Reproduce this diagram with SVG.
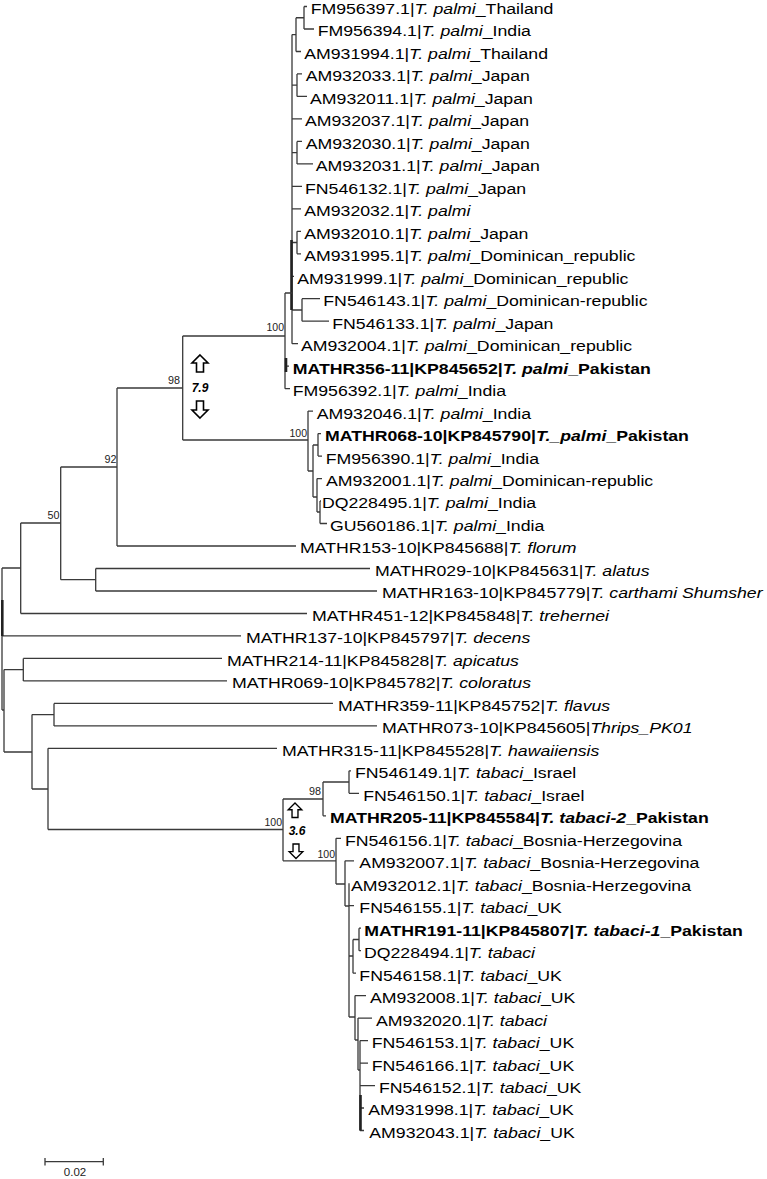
<svg xmlns="http://www.w3.org/2000/svg" width="767" height="1179" viewBox="0 0 767 1179">
<style>
.e{fill:none;stroke:#3a3a3a;stroke-width:1.3}
.k{fill:none;stroke:#222;stroke-width:2.6}
.t{font-family:"Liberation Sans",Arial,sans-serif;font-size:14px;fill:#000}
.bd{font-weight:bold}
.i{font-style:italic}
.b{font-family:"Liberation Sans",Arial,sans-serif;font-size:11.5px;fill:#222;text-anchor:end}
.a{fill:#fff;stroke:#000;stroke-width:1.6;stroke-linejoin:miter}
.d{font-family:"Liberation Sans",Arial,sans-serif;font-size:12px;font-weight:bold;font-style:italic;text-anchor:middle}
</style>
<defs>
<path id="up" d="M0,0 L8,8 L3.5,8 L3.5,17 L-3.5,17 L-3.5,8 L-8,8 Z"/>
<path id="dn" d="M0,17 L8,9 L3.5,9 L3.5,0 L-3.5,0 L-3.5,9 L-8,9 Z"/>
</defs>
<rect width="767" height="1179" fill="#fff"/>
<g id="connectors">
<path class="e" d="M304,6.5 V29 M304,6.5 H307 M304,29 H314"/>
<path class="e" d="M296,17.75 V51.5 M296,17.75 H304 M296,51.5 H301"/>
<path class="e" d="M297,73.9 V96.4 M297,73.9 H302 M297,96.4 H307"/>
<path class="e" d="M297,141.4 V163.9 M297,141.4 H302 M297,163.9 H313"/>
<path class="e" d="M297,231.3 V253.8 M297,231.3 H301 M297,253.8 H301"/>
<path class="e" d="M302,298.7 V321.2 M302,298.7 H320 M302,321.2 H329"/>
<path class="e" d="M292,34.6 V343.7 M292,34.6 H296 M292,85.2 H297 M292,118.9 H302 M292,152.6 H297 M292,186.3 H302 M292,208.8 H301 M292,242.5 H297 M292,276.3 H294 M292,310 H302 M292,343.7 H298"/>
<path class="k" d="M291.5,240 V310"/>
<path class="e" d="M285,293 V388.7 M285,293 H292 M285,366.2 H289 M285,388.7 H290"/>
<path class="k" d="M286,358 V372"/>
<path class="e" d="M182.7,336 V440 M182.7,336 H285 M182.7,440 H308"/>
<path class="e" d="M308,411.1 V471 M308,411.1 H313 M308,471 H313"/>
<path class="e" d="M313,445 V497 M313,445 H318 M313,497 H317"/>
<path class="e" d="M318,433.6 V456.1 M318,433.6 H321 M318,456.1 H322"/>
<path class="e" d="M317,478.6 V512 M317,478.6 H322 M317,512 H320"/>
<path class="e" d="M320,501 V523.5 M320,501 H321 M320,523.5 H327"/>
<path class="e" d="M117,388 V546 M117,388 H182.7 M117,546 H296"/>
<path class="e" d="M60.7,467 V579.7 M60.7,467 H117 M60.7,579.7 H95.7"/>
<path class="e" d="M95.7,568.5 V591 M95.7,568.5 H370 M95.7,591 H377"/>
<path class="e" d="M20.7,523 V613.5 M20.7,523 H60.7 M20.7,613.5 H307"/>
<path class="e" d="M2,568 V710 M2,568 H20.7 M2,635.9 H241 M2,710 H4"/>
<path class="k" d="M2.3,600 V636"/>
<path class="e" d="M4,669.6 V752 M4,669.6 H23.3 M4,752 H32"/>
<path class="e" d="M23.3,658.4 V680.9 M23.3,658.4 H222 M23.3,680.9 H227"/>
<path class="e" d="M32,714.6 V789 M32,714.6 H54 M32,789 H48"/>
<path class="e" d="M54,703.4 V725.9 M54,703.4 H333 M54,725.9 H377"/>
<path class="e" d="M48,748.3 V829.5 M48,748.3 H277 M48,829.5 H283"/>
<path class="e" d="M283,799 V860.8 M283,799 H323 M283,860.8 H336"/>
<path class="e" d="M323,782 V815.8 M323,782 H349 M323,815.8 H326"/>
<path class="e" d="M349,770.8 V793.3 M349,770.8 H351 M349,793.3 H359"/>
<path class="e" d="M336,838.3 V884 M336,838.3 H341 M336,884 H345"/>
<path class="e" d="M345,860.8 V906 M345,860.8 H354 M345,906 H349"/>
<path class="e" d="M349,883.2 V1017 M349,905.7 H354 M349,956 H353 M349,1017 H355"/>
<path class="e" d="M353,939.5 V973.2 M353,939.5 H359 M353,973.2 H356"/>
<path class="e" d="M359,928.2 V950.7 M359,928.2 H361 M359,950.7 H361"/>
<path class="e" d="M355,995.6 V1040 M355,995.6 H366 M355,1040 H358"/>
<path class="e" d="M358,1018.1 V1070 M358,1018.1 H372 M358,1070 H360"/>
<path class="e" d="M360,1040.6 V1130.5 M360,1040.6 H368 M360,1063.1 H368 M360,1085.6 H375 M360,1108 H364 M360,1130.5 H364"/>
<path class="k" d="M360.5,1095 V1130.5"/>
</g>
<g id="bootstrap">
<text class="b" x="284" y="331" textLength="17.5" lengthAdjust="spacingAndGlyphs">100</text>
<text class="b" x="180" y="384" textLength="12" lengthAdjust="spacingAndGlyphs">98</text>
<text class="b" x="307" y="437" textLength="17.5" lengthAdjust="spacingAndGlyphs">100</text>
<text class="b" x="116.5" y="463" textLength="12" lengthAdjust="spacingAndGlyphs">92</text>
<text class="b" x="59.5" y="519" textLength="12" lengthAdjust="spacingAndGlyphs">50</text>
<text class="b" x="282" y="826" textLength="17.5" lengthAdjust="spacingAndGlyphs">100</text>
<text class="b" x="321" y="795" textLength="12" lengthAdjust="spacingAndGlyphs">98</text>
<text class="b" x="335" y="858" textLength="17.5" lengthAdjust="spacingAndGlyphs">100</text>
</g>
<g id="divergence-palmi">
<use href="#up" class="a" x="200" y="355"/>
<text class="d" x="200" y="392">7.9</text>
<use href="#dn" class="a" x="200" y="401"/>
</g>
<g id="divergence-tabaci">
<use href="#up" class="a" x="295" y="803" transform="translate(295 803) scale(0.85) translate(-295 -803)"/>
<text class="d" x="297" y="835">3.6</text>
<use href="#dn" class="a" x="296" y="844" transform="translate(296 844) scale(0.85) translate(-296 -844)"/>
</g>
<g id="labels" transform="scale(1.264 1)">
<g id="n1"><text class="t" x="245.8" y="14">FM956397.1|<tspan class="i">T. palmi</tspan>_Thailand</text></g>
<g id="n2"><text class="t" x="251.3" y="36.5">FM956394.1|<tspan class="i">T. palmi</tspan>_India</text></g>
<g id="n3"><text class="t" x="240.7" y="59">AM931994.1|<tspan class="i">T. palmi</tspan>_Thailand</text></g>
<g id="n4"><text class="t" x="241.9" y="81.4">AM932033.1|<tspan class="i">T. palmi</tspan>_Japan</text></g>
<g id="n5"><text class="t" x="245.3" y="103.9">AM932011.1|<tspan class="i">T. palmi</tspan>_Japan</text></g>
<g id="n6"><text class="t" x="241.3" y="126.4">AM932037.1|<tspan class="i">T. palmi</tspan>_Japan</text></g>
<g id="n7"><text class="t" x="241.9" y="148.9">AM932030.1|<tspan class="i">T. palmi</tspan>_Japan</text></g>
<g id="n8"><text class="t" x="249.8" y="171.4">AM932031.1|<tspan class="i">T. palmi</tspan>_Japan</text></g>
<g id="n9"><text class="t" x="241.3" y="193.8">FN546132.1|<tspan class="i">T. palmi</tspan>_Japan</text></g>
<g id="n10"><text class="t" x="240.7" y="216.3">AM932032.1|<tspan class="i">T. palmi</tspan></text></g>
<g id="n11"><text class="t" x="240.7" y="238.8">AM932010.1|<tspan class="i">T. palmi</tspan>_Japan</text></g>
<g id="n12"><text class="t" x="240.7" y="261.3">AM931995.1|<tspan class="i">T. palmi</tspan>_Dominican_republic</text></g>
<g id="n13"><text class="t" x="235.2" y="283.8">AM931999.1|<tspan class="i">T. palmi</tspan>_Dominican_republic</text></g>
<g id="n14"><text class="t" x="255.8" y="306.2">FN546143.1|<tspan class="i">T. palmi</tspan>_Dominican-republic</text></g>
<g id="n15"><text class="t" x="262.9" y="328.7">FN546133.1|<tspan class="i">T. palmi</tspan>_Japan</text></g>
<g id="n16"><text class="t" x="238.1" y="351.2">AM932004.1|<tspan class="i">T. palmi</tspan>_Dominican_republic</text></g>
<g id="n17"><text class="t bd" x="231.6" y="373.7">MATHR356-11|KP845652|<tspan class="i">T. palmi</tspan>_Pakistan</text></g>
<g id="n18"><text class="t" x="231.6" y="396.2">FM956392.1|<tspan class="i">T. palmi</tspan>_India</text></g>
<g id="n19"><text class="t" x="250.6" y="418.6">AM932046.1|<tspan class="i">T. palmi</tspan>_India</text></g>
<g id="n20"><text class="t bd" x="257.1" y="441.1">MATHR068-10|KP845790|<tspan class="i">T._palmi</tspan>_Pakistan</text></g>
<g id="n21"><text class="t" x="257.7" y="463.6">FM956390.1|<tspan class="i">T. palmi</tspan>_India</text></g>
<g id="n22"><text class="t" x="257.9" y="486.1">AM932001.1|<tspan class="i">T. palmi</tspan>_Dominican-republic</text></g>
<g id="n23"><text class="t" x="254.7" y="508.5">DQ228495.1|<tspan class="i">T. palmi</tspan>_India</text></g>
<g id="n24"><text class="t" x="261.1" y="531">GU560186.1|<tspan class="i">T. palmi</tspan>_India</text></g>
<g id="n25"><text class="t" x="237.3" y="553.5">MATHR153-10|KP845688|<tspan class="i">T. florum</tspan></text></g>
<g id="n26"><text class="t" x="296.7" y="576">MATHR029-10|KP845631|<tspan class="i">T. alatus</tspan></text></g>
<g id="n27"><text class="t" x="302.2" y="598.5">MATHR163-10|KP845779|<tspan class="i">T. carthami Shumsher</tspan></text></g>
<g id="n28"><text class="t" x="246.8" y="621">MATHR451-12|KP845848|<tspan class="i">T. trehernei</tspan></text></g>
<g id="n29"><text class="t" x="194.6" y="643.4">MATHR137-10|KP845797|<tspan class="i">T. decens</tspan></text></g>
<g id="n30"><text class="t" x="179.6" y="665.9">MATHR214-11|KP845828|<tspan class="i">T. apicatus</tspan></text></g>
<g id="n31"><text class="t" x="183.5" y="688.4">MATHR069-10|KP845782|<tspan class="i">T. coloratus</tspan></text></g>
<g id="n32"><text class="t" x="267.4" y="710.9">MATHR359-11|KP845752|<tspan class="i">T. flavus</tspan></text></g>
<g id="n33"><text class="t" x="302.2" y="733.4">MATHR073-10|KP845605|<tspan class="i">Thrips_PK01</tspan></text></g>
<g id="n34"><text class="t" x="223.1" y="755.8">MATHR315-11|KP845528|<tspan class="i">T. hawaiiensis</tspan></text></g>
<g id="n35"><text class="t" x="280.9" y="778.3">FN546149.1|<tspan class="i">T. tabaci</tspan>_Israel</text></g>
<g id="n36"><text class="t" x="287.4" y="800.8">FN546150.1|<tspan class="i">T. tabaci</tspan>_Israel</text></g>
<g id="n37"><text class="t bd" x="261.1" y="823.3">MATHR205-11|KP845584|<tspan class="i">T. tabaci-2</tspan>_Pakistan</text></g>
<g id="n38"><text class="t" x="272.9" y="845.8">FN546156.1|<tspan class="i">T. tabaci</tspan>_Bosnia-Herzegovina</text></g>
<g id="n39"><text class="t" x="284.3" y="868.3">AM932007.1|<tspan class="i">T. tabaci</tspan>_Bosnia-Herzegovina</text></g>
<g id="n40"><text class="t" x="277.7" y="890.7">AM932012.1|<tspan class="i">T. tabaci</tspan>_Bosnia-Herzegovina</text></g>
<g id="n41"><text class="t" x="284.3" y="913.2">FN546155.1|<tspan class="i">T. tabaci</tspan>_UK</text></g>
<g id="n42"><text class="t bd" x="288.2" y="935.7">MATHR191-11|KP845807|<tspan class="i">T. tabaci-1</tspan>_Pakistan</text></g>
<g id="n43"><text class="t" x="288" y="958.2">DQ228494.1|<tspan class="i">T. tabaci</tspan></text></g>
<g id="n44"><text class="t" x="284.3" y="980.7">FN546158.1|<tspan class="i">T. tabaci</tspan>_UK</text></g>
<g id="n45"><text class="t" x="292.7" y="1003.1">AM932008.1|<tspan class="i">T. tabaci</tspan>_UK</text></g>
<g id="n46"><text class="t" x="297.5" y="1025.6">AM932020.1|<tspan class="i">T. tabaci</tspan></text></g>
<g id="n47"><text class="t" x="294.1" y="1048.1">FN546153.1|<tspan class="i">T. tabaci</tspan>_UK</text></g>
<g id="n48"><text class="t" x="294.1" y="1070.6">FN546166.1|<tspan class="i">T. tabaci</tspan>_UK</text></g>
<g id="n49"><text class="t" x="299.8" y="1093.1">FN546152.1|<tspan class="i">T. tabaci</tspan>_UK</text></g>
<g id="n50"><text class="t" x="291.4" y="1115.5">AM931998.1|<tspan class="i">T. tabaci</tspan>_UK</text></g>
<g id="n51"><text class="t" x="292.2" y="1138">AM932043.1|<tspan class="i">T. tabaci</tspan>_UK</text></g>
</g>
<g id="scale-bar">
<path class="e" d="M45,1161.7 H103.3 M45,1158 V1165.5 M103.3,1158 V1165.5"/>
<text class="b" style="text-anchor:middle" x="75" y="1176">0.02</text>
</g>
</svg>
